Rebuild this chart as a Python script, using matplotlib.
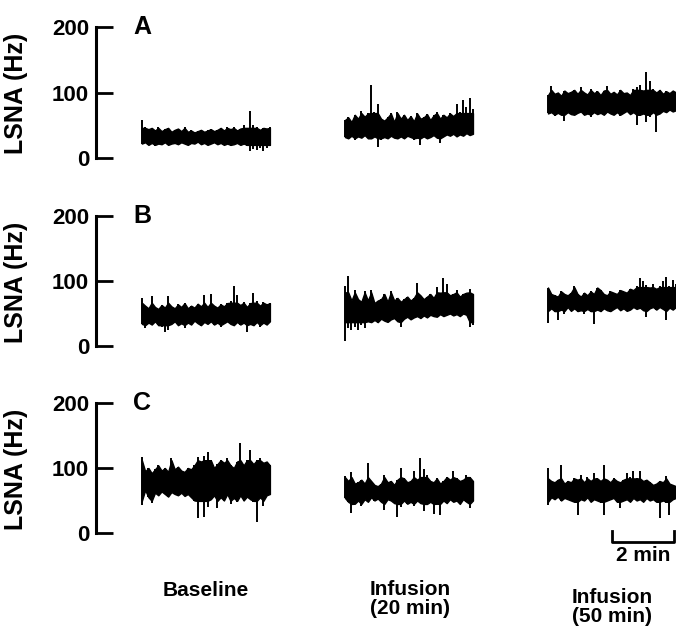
import numpy as np
import matplotlib
matplotlib.use("Agg")
from matplotlib import pyplot as plt

plt.rcParams['font.family'] = ['Liberation Sans', 'DejaVu Sans']
plt.rcParams['font.weight'] = 'bold'

# LSNA traces (Hz), read off the figure as upper / lower excursions
# panel A
a_base_hi = [58, 48, 44, 46, 42, 48, 41, 44, 46, 40, 43, 45, 41, 47, 40, 42, 39, 41, 43, 40,
             42, 44, 41, 43, 46, 42, 47, 44, 48, 42, 45, 50, 46, 72, 50, 48, 43, 46, 45, 47]
a_base_lo = [22, 24, 20, 23, 19, 22, 21, 24, 20, 22, 23, 21, 24, 22, 20, 23, 22, 25, 21, 23,
             20, 22, 24, 21, 23, 20, 22, 19, 21, 23, 20, 22, 18, 10, 14, 12, 16, 11, 15, 18]
a_inf20_hi = [58, 62, 55, 66, 60, 72, 63, 68, 111, 70, 82, 60, 57, 62, 68, 55, 70, 60, 66, 58,
              64, 56, 68, 60, 62, 67, 58, 65, 70, 60, 66, 62, 68, 64, 82, 70, 88, 78, 92, 75]
a_inf20_lo = [32, 30, 34, 28, 33, 31, 35, 30, 29, 33, 17, 28, 32, 30, 34, 31, 29, 33, 30, 34,
              32, 28, 31, 20, 33, 30, 32, 35, 31, 23, 33, 36, 34, 37, 33, 36, 34, 38, 35, 37]
a_inf50_hi = [96, 110, 98, 100, 95, 103, 99, 101, 104, 98, 108, 100, 97, 106, 99, 102, 96, 103, 110, 98,
              101, 97, 104, 99, 100, 96, 105, 108, 112, 103, 132, 118, 106, 100, 104, 98, 102, 99, 103, 100]
a_inf50_lo = [68, 70, 64, 69, 66, 56, 70, 67, 65, 69, 71, 66, 68, 62, 70, 67, 69, 65, 71, 68,
              66, 70, 64, 69, 72, 67, 70, 50, 64, 68, 55, 62, 70, 40, 68, 72, 70, 74, 71, 73]
# panel B
b_base_hi = [74, 62, 58, 77, 60, 57, 63, 59, 77, 61, 58, 64, 60, 66, 58, 62, 59, 65, 61, 78,
             60, 80, 62, 59, 64, 61, 66, 70, 92, 78, 63, 68, 60, 66, 81, 70, 62, 68, 64, 66]
b_base_lo = [34, 27, 36, 33, 38, 32, 30, 21, 25, 34, 38, 32, 35, 28, 36, 33, 39, 35, 31, 37,
             34, 38, 33, 36, 30, 35, 38, 34, 31, 37, 33, 36, 22, 34, 32, 37, 30, 36, 33, 38]
b_inf20_hi = [92, 107, 70, 86, 72, 68, 84, 70, 86, 66, 70, 72, 80, 68, 85, 70, 74, 68, 72, 76,
              70, 74, 97, 78, 72, 76, 80, 74, 91, 82, 105, 96, 78, 80, 86, 76, 80, 82, 88, 80]
b_inf20_lo = [7, 28, 25, 30, 24, 33, 28, 38, 35, 40, 36, 42, 39, 37, 41, 43, 38, 30, 42, 45,
              41, 44, 46, 43, 47, 44, 48, 46, 45, 49, 46, 48, 50, 47, 49, 46, 50, 48, 30, 32]
b_inf50_hi = [90, 80, 78, 76, 84, 80, 78, 82, 92, 80, 76, 82, 78, 84, 80, 90, 86, 80, 78, 84,
              82, 80, 86, 84, 82, 88, 86, 92, 104, 100, 94, 90, 96, 88, 92, 100, 106, 92, 102, 96]
b_inf50_lo = [35, 58, 52, 40, 56, 50, 60, 54, 58, 52, 55, 50, 57, 53, 34, 56, 52, 58, 55, 53,
              57, 60, 55, 58, 54, 56, 60, 57, 59, 55, 45, 58, 60, 56, 60, 57, 40, 59, 56, 60]
# panel C
c_base_hi = [117, 95, 100, 92, 98, 104, 96, 100, 94, 115, 98, 102, 96, 94, 100, 98, 104, 117, 110, 118,
             125, 112, 100, 106, 112, 108, 115, 104, 100, 110, 138, 104, 112, 128, 106, 112, 116, 108, 110, 104]
c_base_lo = [43, 66, 55, 46, 62, 58, 64, 60, 56, 63, 60, 58, 62, 57, 60, 55, 50, 23, 48, 25,
             40, 52, 58, 38, 55, 50, 60, 45, 54, 48, 58, 50, 56, 52, 48, 17, 55, 42, 58, 60]
c_inf20_hi = [87, 80, 94, 76, 78, 82, 76, 108, 80, 74, 72, 76, 90, 78, 80, 74, 82, 100, 84, 78,
              80, 96, 82, 115, 98, 90, 80, 78, 84, 76, 80, 86, 82, 96, 84, 80, 82, 90, 86, 80]
c_inf20_lo = [54, 48, 31, 45, 50, 42, 52, 48, 55, 50, 53, 48, 36, 52, 50, 46, 25, 40, 50, 45,
              48, 42, 50, 46, 34, 44, 48, 30, 45, 28, 50, 46, 52, 48, 50, 44, 52, 48, 38, 50]
c_inf50_hi = [100, 80, 78, 82, 105, 76, 80, 78, 84, 82, 90, 78, 86, 80, 92, 84, 80, 105, 82, 78,
              84, 80, 78, 82, 92, 86, 96, 84, 96, 80, 82, 78, 74, 76, 80, 78, 87, 76, 74, 72]
c_inf50_lo = [43, 55, 52, 56, 50, 54, 52, 50, 48, 28, 52, 50, 55, 48, 52, 50, 46, 28, 50, 52,
              54, 48, 38, 50, 52, 48, 54, 50, 52, 48, 54, 50, 52, 48, 23, 50, 46, 28, 52, 54]

panels = ['A', 'B', 'C']
traces = [
    [(a_base_hi, a_base_lo), (a_inf20_hi, a_inf20_lo), (a_inf50_hi, a_inf50_lo)],
    [(b_base_hi, b_base_lo), (b_inf20_hi, b_inf20_lo), (b_inf50_hi, b_inf50_lo)],
    [(c_base_hi, c_base_lo), (c_inf20_hi, c_inf20_lo), (c_inf50_hi, c_inf50_lo)],
]
yticks = [0, 100, 200]
conditions = ['Baseline', 'Infusion\n(20 min)', 'Infusion\n(50 min)']

# time layout (min)
seg_start = [1.48, 8.03, 14.58]
seg_len = 4.13
scale_bar = 2  # min

W, H = 676, 627
fig = plt.figure(figsize=(W / 100, H / 100), dpi=100)

# axes boxes in pixels: (y of 0 Hz, y of 200 Hz)
boxes = [(158, 27), (346, 216), (533, 403)]
x0_px, x1_px = 96, 676

for i, (ybot, ytop) in enumerate(boxes):
    ax = fig.add_axes([x0_px / W, 1 - ybot / H, (x1_px - x0_px) / W, (ybot - ytop) / H])
    ax.set_xlim(0, (x1_px - x0_px) / 31.0)
    ax.set_ylim(0, 200)
    for s in ['top', 'right', 'bottom']:
        ax.spines[s].set_visible(False)
    ax.spines['left'].set_linewidth(2.2)
    ax.set_xticks([])
    ax.set_yticks(yticks)
    ax.tick_params(axis='y', direction='in', length=12, width=2, pad=5, labelsize=16)
    for lab in ax.get_yticklabels():
        lab.set_fontweight('bold')
    ax.set_ylabel('LSNA (Hz)', fontsize=18, fontweight='bold')
    ax.yaxis.set_label_coords(-0.117, 0.49)
    ax.text(1.2, 200, panels[i], fontsize=18, fontweight='bold', ha='left', va='center')

    for j, (hi, lo) in enumerate(traces[i]):
        hi = np.array(hi, float)
        lo = np.array(lo, float)
        tp = np.linspace(seg_start[j], seg_start[j] + seg_len, len(hi))
        # dense core of the burst record, then the single excursions as thin strokes
        core_hi = np.minimum(hi, np.percentile(hi, 70))
        core_lo = np.maximum(lo, np.percentile(lo, 30))
        ax.fill_between(tp, core_lo, core_hi, color='black', lw=1.0, clip_on=False)
        ax.vlines(tp, lo, hi, color='black', lw=1.4, clip_on=False)

    if i == 2:
        xs = ax.get_xlim()[1] - 0.05 - scale_bar
        ax.plot([xs, xs, xs + scale_bar, xs + scale_bar], [3, -14, -14, 3],
                color='black', lw=2, clip_on=False)
        ax.text(xs + scale_bar / 2, -34, '2 min', fontsize=15, fontweight='bold',
                ha='center', va='center')

# condition labels under the columns
fig.text(206 / W, 1 - 590 / H, conditions[0], fontsize=15, fontweight='bold', ha='center', va='center')
fig.text(410 / W, 1 - 599 / H, conditions[1], fontsize=15, fontweight='bold', ha='center', va='center',
         linespacing=1.05)
fig.text(612 / W, 1 - 607 / H, conditions[2], fontsize=15, fontweight='bold', ha='center', va='center',
         linespacing=1.05)

fig.savefig('out.png', dpi=100)
